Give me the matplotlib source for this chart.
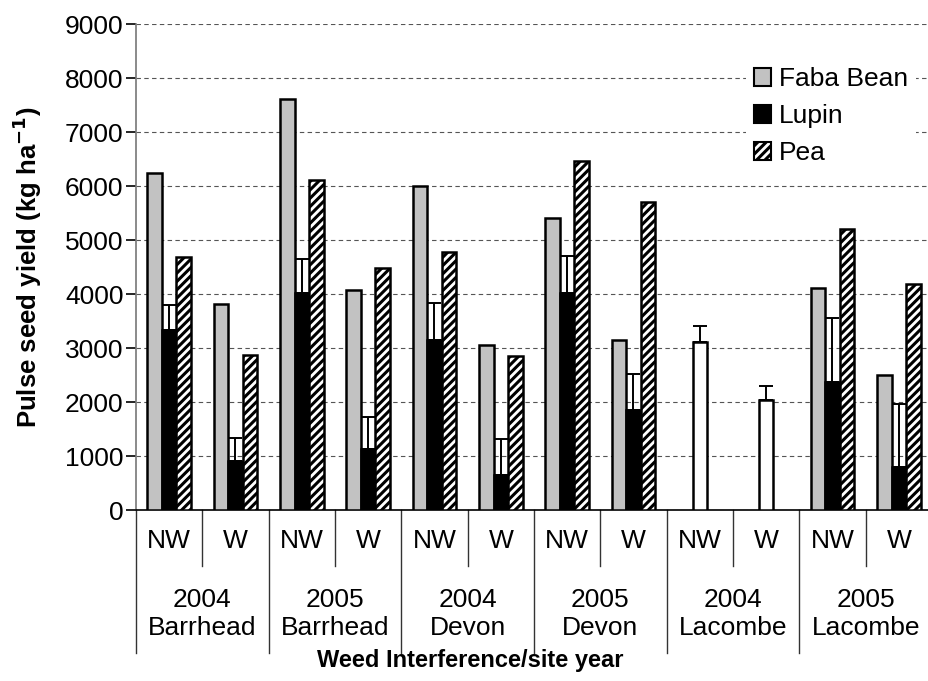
import numpy as np
import matplotlib
matplotlib.use("Agg")
import matplotlib.pyplot as plt
from matplotlib.patches import Patch

plt.rcParams['font.family'] = ['Liberation Sans', 'DejaVu Sans']
plt.rcParams['hatch.linewidth'] = 2.2

# weed interference level within each site year
levels = ["NW", "W"] * 6
site_years = ["2004\nBarrhead", "2005\nBarrhead", "2004\nDevon",
              "2005\nDevon", "2004\nLacombe", "2005\nLacombe"]

faba = [6250, 3810, 7620, 4070, 6000, 3060, 5410, 3150, np.nan, np.nan, 4110, 2500]
lupin = [3340, 900, 4020, 1125, 3150, 650, 4020, 1860, 3120, 2030, 2370, 790]
lupin_err_top = [3790, 1340, 4640, 1730, 3830, 1310, 4700, 2520, 3410, 2290, 3550, 1970]
pea = [4680, 2870, 6120, 4490, 4770, 2860, 6470, 5700, np.nan, np.nan, 5210, 4190]
# Lacombe 2004 bars are drawn unfilled in the original
lupin_fill = ["black"] * 8 + ["white", "white"] + ["black"] * 2

fig = plt.figure(figsize=(9.29, 6.81), dpi=100)
ax = fig.add_axes([136 / 929, 1 - 510 / 681, 796 / 929, 486 / 681])

x = np.arange(len(levels))
w = 0.22
edge = dict(edgecolor="black", linewidth=1.8, zorder=3)

ax.bar(x - w, faba, w, color="#c2c2c2", **edge)
ax.bar(x, lupin, w, color=lupin_fill, **edge)
ax.bar(x + w, pea, w, color="white", hatch="////", **edge)

err = np.array(lupin_err_top) - np.array(lupin)
ax.errorbar(x, lupin, yerr=[np.zeros_like(err), err], fmt="none",
            ecolor="black", elinewidth=1.4, capsize=5, capthick=1.4, zorder=4)

ax.set_xlim(-0.5, len(levels) - 0.5)
ax.set_ylim(0, 9000)
ax.set_yticks(np.arange(0, 9001, 1000))
ax.tick_params(axis="y", labelsize=19, length=7, width=1.2, direction="out", pad=2)
ax.set_xticks([])
ax.grid(axis="y", linestyle=(0, (4, 3)), color="#555555", linewidth=0.8, zorder=0)
ax.set_axisbelow(True)

for s in ["top", "right"]:
    ax.spines[s].set_visible(False)
ax.spines["left"].set_color("#777777")
ax.spines["left"].set_linewidth(1.2)
ax.spines["bottom"].set_linewidth(1.2)

# two-level category axis
tr = ax.get_xaxis_transform()
short_y = -(566 - 510) / 486
long_y = -(653 - 510) / 486
for i in range(len(levels) + 1):
    yb = long_y if i % 2 == 0 else short_y
    ax.plot([i - 0.5, i - 0.5], [0, yb], transform=tr, color="#333333",
            linewidth=1.0, clip_on=False)
for i, lab in enumerate(levels):
    ax.text(i, -(541 - 510) / 486, lab, transform=tr, ha="center", va="center",
            fontsize=19)
for j, lab in enumerate(site_years):
    ax.text(2 * j + 0.5, -(614 - 510) / 486, lab, transform=tr, ha="center",
            va="center", fontsize=19, linespacing=1.25)

fig.text(470 / 929, 1 - 661 / 681, "Weed Interference/site year", ha="center",
         va="center", fontsize=17, fontweight="bold")
fig.text(27 / 929, 1 - 267 / 681, "Pulse seed yield (kg ha$^{\\mathbf{-1}}$)",
         rotation=90, ha="center", va="center", fontsize=18.5, fontweight="bold")

handles = [Patch(facecolor="#c2c2c2", edgecolor="black", linewidth=1.5),
           Patch(facecolor="black", edgecolor="black", linewidth=1.5),
           Patch(facecolor="white", edgecolor="black", linewidth=1.5, hatch="////")]
leg = fig.legend(handles, ["Faba Bean", "Lupin", "Pea"], loc="upper left",
                 bbox_to_anchor=(733 / 929, 1 - 46 / 681), fontsize=19,
                 frameon=True, edgecolor="none", facecolor="white", framealpha=1,
                 handlelength=0.65, handleheight=0.65, handletextpad=0.3,
                 labelspacing=0.5, borderpad=0.3)

fig.savefig("out.png", dpi=100)
